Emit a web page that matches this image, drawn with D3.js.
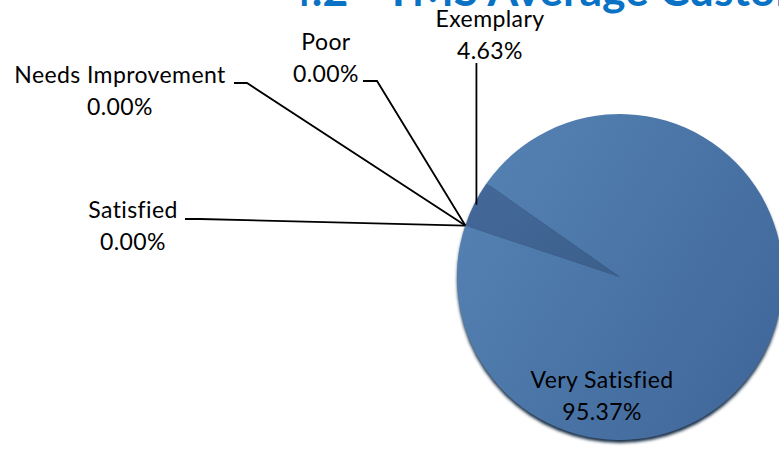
<!DOCTYPE html>
<html>
<head>
<meta charset="utf-8">
<script src="https://cdn.jsdelivr.net/npm/d3@7"></script>
<style>
  html, body { margin: 0; padding: 0; background: #fff; }
  svg { display: block; }
  .lbl { font-family: Lato, "Open Sans", sans-serif; font-size: 23px; letter-spacing: 0.4px; fill: #000; }
</style>
</head>
<body>
<svg id="chart" width="779" height="450"></svg>
<script>
// data
const categories = ['Exemplary', 'Very Satisfied', 'Satisfied', 'Needs Improvement', 'Poor'];
const shares = [4.63, 95.37, 0.00, 0.00, 0.00];
const title = '4.2 - TMS Average Customer Satisfaction';

const width = 779, height = 450;
const cx = 620, cy = 277, radius = 163;
const startDeg = 288.4; // first slice angle, clockwise from 12 o'clock

// where each label sits (center x, baseline of first line) and its leader elbow
const labelLayout = {
  'Exemplary':         { x: 490, y: 27, leader: 'down' },
  'Very Satisfied':    { x: 602, y: 388, leader: null },
  'Satisfied':         { x: 133, y: 218, leader: 'side', from: [185, 219], elbow: [200, 219] },
  'Needs Improvement': { x: 120, y: 83, leader: 'side', from: [234, 83], elbow: [247, 83] },
  'Poor':              { x: 326, y: 50, leader: 'side', from: [363, 81], elbow: [377, 81] }
};

const svg = d3.select('#chart');
const defs = svg.append('defs');

const grad = defs.append('linearGradient')
  .attr('id', 'pieFill')
  .attr('x1', '0%').attr('y1', '20%')
  .attr('x2', '100%').attr('y2', '80%');
grad.append('stop').attr('offset', '0%').attr('stop-color', '#5482b3');
grad.append('stop').attr('offset', '100%').attr('stop-color', '#41679a');

const gradDark = defs.append('linearGradient')
  .attr('id', 'sliceFill')
  .attr('x1', '0%').attr('y1', '0%')
  .attr('x2', '100%').attr('y2', '100%');
gradDark.append('stop').attr('offset', '0%').attr('stop-color', '#44699a');
gradDark.append('stop').attr('offset', '100%').attr('stop-color', '#3c5f8b');

const blur = defs.append('filter').attr('id', 'shadow')
  .attr('x', '-10%').attr('y', '-10%').attr('width', '120%').attr('height', '120%');
blur.append('feGaussianBlur').attr('stdDeviation', 1.5);

const data = categories.map((c, i) => ({ category: c, value: shares[i] }));

const pie = d3.pie()
  .sort(null)
  .value(d => d.value)
  .startAngle(startDeg * Math.PI / 180)
  .endAngle(startDeg * Math.PI / 180 + 2 * Math.PI);

const arcs = pie(data);
const arc = d3.arc().innerRadius(0).outerRadius(radius);
const fmt = d3.format('.2f');

const g = svg.append('g').attr('transform', `translate(${cx},${cy})`);

// soft dark rim under the pie
g.append('circle')
  .attr('cx', 0).attr('cy', 3)
  .attr('r', radius)
  .attr('fill', '#1c3048')
  .attr('filter', 'url(#shadow)');

g.selectAll('path.slice')
  .data(arcs.filter(d => d.value > 0))
  .join('path')
  .attr('class', 'slice')
  .attr('d', arc)
  .attr('fill', d => d.data.category === 'Exemplary' ? 'url(#sliceFill)' : 'url(#pieFill)');

// point on the rim at a slice's middle angle
function rimPoint(d) {
  const a = (d.startAngle + d.endAngle) / 2;
  return [cx + radius * Math.sin(a), cy - radius * Math.cos(a)];
}

const leaders = svg.append('g')
  .attr('fill', 'none')
  .attr('stroke', '#000')
  .attr('stroke-width', 1.8);

arcs.forEach(d => {
  const lay = labelLayout[d.data.category];
  const p = rimPoint(d);
  if (lay.leader === 'down') {
    leaders.append('polyline')
      .attr('points', [[p[0] + 2, 63], [p[0] + 2, p[1] + 1]].map(q => q.join(',')).join(' '));
  } else if (lay.leader === 'side') {
    leaders.append('polyline')
      .attr('points', [lay.from, lay.elbow, p].map(q => q.join(',')).join(' '));
  }
});

const labels = svg.append('g');
arcs.forEach(d => {
  const lay = labelLayout[d.data.category];
  const t = labels.append('text')
    .attr('class', 'lbl')
    .attr('text-anchor', 'middle')
    .attr('x', lay.x)
    .attr('y', lay.y);
  t.append('tspan').attr('x', lay.x).text(d.data.category);
  t.append('tspan').attr('x', lay.x).attr('dy', 32).text(fmt(d.data.value) + '%');
});

// title, mostly clipped by the top edge
svg.append('text')
  .attr('x', 286)
  .attr('y', 6)
  .attr('font-family', 'Lato, "Open Sans", sans-serif')
  .attr('font-weight', 'bold')
  .attr('font-size', 44.5)
  .attr('fill', '#0a72c4')
  .text(title);
</script>
</body>
</html>
